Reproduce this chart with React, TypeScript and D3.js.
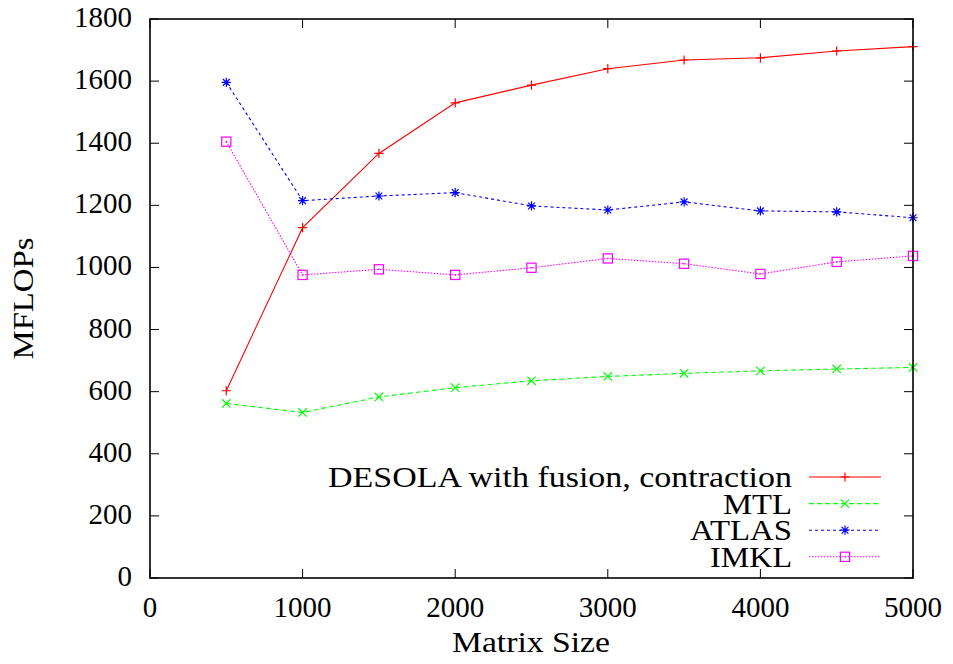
import React from "react";
import * as d3 from "d3";

const sizes = [500, 1000, 1500, 2000, 2500, 3000, 3500, 4000, 4500, 5000];
const desola = [603, 1128, 1367, 1530, 1587, 1640, 1668, 1675, 1697, 1711];
const mtl = [562, 533, 583, 613, 635, 649, 659, 667, 673, 678];
const atlas = [1596, 1215, 1230, 1241, 1198, 1185, 1211, 1182, 1179, 1160];
const imkl = [1405, 976, 994, 976, 999, 1029, 1012, 979, 1018, 1037];
const seriesNames = ["DESOLA with fusion, contraction", "MTL", "ATLAS", "IMKL"];
const xTicks = [0, 1000, 2000, 3000, 4000, 5000];
const yTicks = [0, 200, 400, 600, 800, 1000, 1200, 1400, 1600, 1800];

const W = 953, H = 664;
const L = 150, R = 913, T = 19, B = 578;
const txt: React.CSSProperties = { fontFamily: "Liberation Serif", fontSize: "30px" };
const tickTxt: React.CSSProperties = { fontFamily: "Liberation Serif", fontSize: "29px" };

type Series = { name: string; values: number[]; color: string; dash: string; marker: string; width: number };

function Marker({ type, x, y, color }: { type: string; x: number; y: number; color: string }) {
  const s = 4.6;
  const sw = 1.2;
  if (type === "plus") {
    return <path d={`M${x - s},${y}H${x + s}M${x},${y - s}V${y + s}`} stroke={color} strokeWidth={sw} fill="none" />;
  }
  if (type === "cross") {
    const c = 4.2;
    return <path d={`M${x - c},${y - c}L${x + c},${y + c}M${x - c},${y + c}L${x + c},${y - c}`} stroke={color} strokeWidth={sw} fill="none" />;
  }
  if (type === "star") {
    const c = 3.4;
    return (
      <path
        d={`M${x - s},${y}H${x + s}M${x},${y - s}V${y + s}M${x - c},${y - c}L${x + c},${y + c}M${x - c},${y + c}L${x + c},${y - c}`}
        stroke={color}
        strokeWidth={sw}
        fill="none"
      />
    );
  }
  return (
    <g>
      <rect x={x - s} y={y - s} width={2 * s} height={2 * s} stroke={color} strokeWidth={sw} fill="none" />
      <rect x={x - 0.7} y={y - 0.7} width={1.4} height={1.4} fill={color} />
    </g>
  );
}

export default function App() {
  const x = d3.scaleLinear().domain([0, 5000]).range([L, R]);
  const y = d3.scaleLinear().domain([0, 1800]).range([B, T]);

  const series: Series[] = [
    { name: seriesNames[0], values: desola, color: "#ff0000", dash: "none", marker: "plus", width: 464 },
    { name: seriesNames[1], values: mtl, color: "#00ff00", dash: "5,3", marker: "cross", width: 69 },
    { name: seriesNames[2], values: atlas, color: "#0000ff", dash: "3,3", marker: "star", width: 102 },
    { name: seriesNames[3], values: imkl, color: "#ff00ff", dash: "1.5,1.5", marker: "square", width: 82 },
  ];

  const line = d3
    .line<number>()
    .x((_, i) => x(sizes[i]))
    .y((v) => y(v));

  const tickLen = 9;
  const legendX0 = 809, legendX1 = 881, legendTextX = 792;
  const legendBase0 = 487, legendStep = 26.6;

  return (
    <svg
      width={W}
      height={H}
      fontFamily="Liberation Serif"
      style={{ position: "absolute", left: 0, top: 0, background: "#fff" }}
    >
      <rect x={0} y={0} width={W} height={H} fill="#fff" />
      {xTicks.map((t) => (
        <g key={"xt" + t}>
          <line x1={x(t)} x2={x(t)} y1={B} y2={B - tickLen} stroke="#000" strokeWidth={1} />
          <line x1={x(t)} x2={x(t)} y1={T} y2={T + tickLen} stroke="#000" strokeWidth={1} />
          <text x={x(t)} y={617} textAnchor="middle" style={tickTxt} fill="#000">
            {t}
          </text>
        </g>
      ))}
      {yTicks.map((t) => (
        <g key={"yt" + t}>
          <line x1={L} x2={L + tickLen} y1={y(t)} y2={y(t)} stroke="#000" strokeWidth={1} />
          <line x1={R} x2={R - tickLen} y1={y(t)} y2={y(t)} stroke="#000" strokeWidth={1} />
          <text x={132} y={y(t) + 8} textAnchor="end" style={tickTxt} fill="#000">
            {t}
          </text>
        </g>
      ))}
      {series.map((s) => (
        <g key={s.name}>
          <path d={line(s.values) || ""} fill="none" stroke={s.color} strokeWidth={1.1} strokeDasharray={s.dash} />
          {s.values.map((v, i) => (
            <Marker key={i} type={s.marker} x={x(sizes[i])} y={y(v)} color={s.color} />
          ))}
        </g>
      ))}
      {series.map((s, i) => {
        const base = legendBase0 + i * legendStep;
        const ly = base - 10;
        return (
          <g key={"lg" + i}>
            <text
              x={legendTextX - s.width}
              y={base}
              textLength={s.width}
              lengthAdjust="spacingAndGlyphs"
              style={txt}
              fill="#000"
            >
              {s.name}
            </text>
            <line x1={legendX0} x2={legendX1} y1={ly} y2={ly} stroke={s.color} strokeWidth={1.1} strokeDasharray={s.dash} />
            <Marker type={s.marker} x={(legendX0 + legendX1) / 2} y={ly} color={s.color} />
          </g>
        );
      })}
      <rect x={L} y={T} width={R - L} height={B - T} fill="none" stroke="#000" strokeWidth={1.6} />
      <text x={452} y={652} textLength={158} lengthAdjust="spacingAndGlyphs" style={txt} fill="#000">
        Matrix Size
      </text>
      <text
        transform={`translate(33,${(T + B) / 2}) rotate(-90)`}
        x={-61}
        y={0}
        textLength={122}
        lengthAdjust="spacingAndGlyphs"
        style={txt}
        fill="#000"
      >
        MFLOPs
      </text>
    </svg>
  );
}
